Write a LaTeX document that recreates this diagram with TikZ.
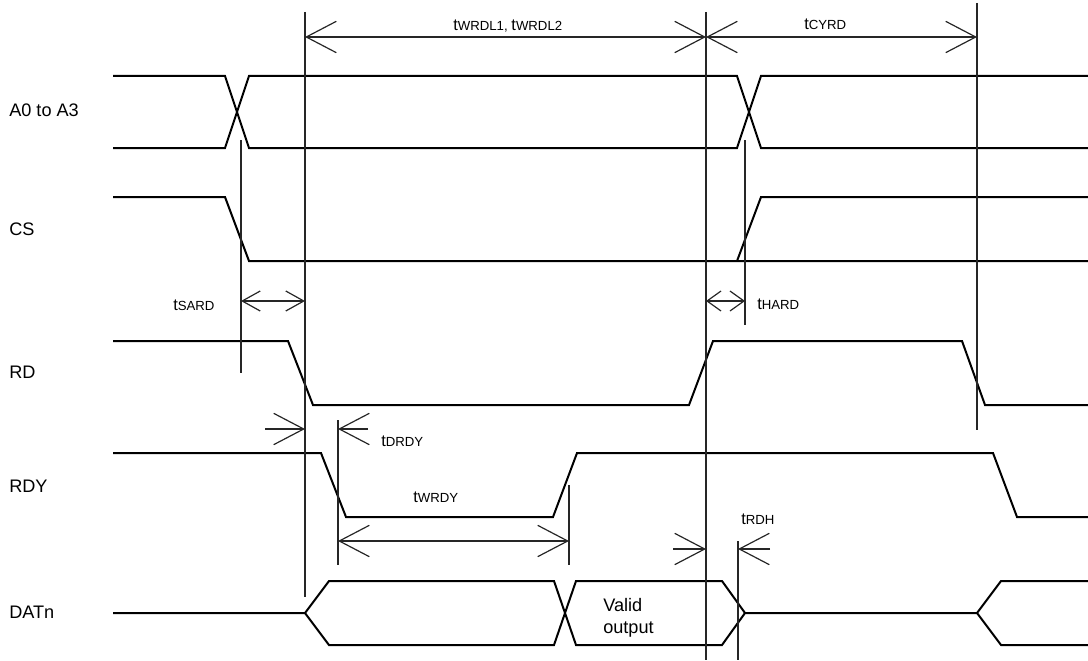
\documentclass[tikz,border=0pt]{standalone}
\usepackage{fontspec}
\setmainfont{Liberation Sans}
\usetikzlibrary{arrows.meta}
\newcommand\tlab[1]{{\fontsize{12.3}{14}\selectfont t}{\fontsize{9.9}{12}\selectfont #1}}
\begin{document}
\begin{tikzpicture}[x=0.75pt,y=-0.75pt,
  sig/.style={line width=1.5pt, line join=miter},
  guide/.style={line width=0.9pt, draw=black!85},
  barb/.tip={Straight Barb[length=22.5pt,width=23.5pt,line width=0.9pt]},
  sbarb/.tip={Straight Barb[length=13.5pt,width=15pt,line width=0.9pt]},
  tbarb/.tip={Straight Barb[length=10.5pt,width=15pt,line width=0.9pt]},
  dim/.style={guide, barb-barb},
  dimr/.style={guide, -barb},
  signame/.style={anchor=base west, inner sep=0pt, font=\fontsize{13.6}{16}\selectfont},
  tl/.style={anchor=base west, inner sep=0pt}]
\useasboundingbox (0,0) rectangle (1088,660);

% signal names
\node[signame] (lA)   at (9,117) {A0 to A3};
\node[signame] (lCS)  at (9,235) {CS};
\node[signame] (lRD)  at (9,378) {RD};
\node[signame] (lRDY) at (9,492) {RDY};
\node[signame] (lDAT) at (9,618) {DATn};

% waveforms
\draw[sig] (113,76) -- (225,76) -- (249,148) -- (737,148) -- (761,76) -- (1088,76);
\draw[sig] (113,148) -- (225,148) -- (249,76) -- (737,76) -- (761,148) -- (1088,148);
\draw[sig] (113,197) -- (225,197) -- (249,261) -- (1088,261);
\draw[sig] (737,261) -- (761,197) -- (1088,197);
\draw[sig] (113,341) -- (288,341) -- (313,405) -- (689,405) -- (713,341) -- (962,341) -- (985,405) -- (1088,405);
\draw[sig] (113,453) -- (321,453) -- (346,517) -- (553,517) -- (577,453) -- (993,453) -- (1017,517) -- (1088,517);
\draw[sig] (113,613) -- (305,613) -- (329,581) -- (554,581) -- (576,645) -- (722,645) -- (745,613) -- (977,613) -- (1001,581) -- (1088,581);
\draw[sig] (305,613) -- (329,645) -- (554,645) -- (576,581) -- (722,581) -- (745,613);
\draw[sig] (977,613) -- (1001,645) -- (1088,645);

% guide lines
\coordinate (g1t) at (241,140); \coordinate (g1b) at (241,373);
\coordinate (g2t) at (305,12);  \coordinate (g2b) at (305,597);
\coordinate (g3t) at (706,12);  \coordinate (g3b) at (706,660);
\coordinate (g4t) at (745,140); \coordinate (g4b) at (745,325);
\coordinate (g5t) at (977,3);   \coordinate (g5b) at (977,430);
\coordinate (g6t) at (338,420); \coordinate (g6b) at (338,565);
\coordinate (g7t) at (569,485); \coordinate (g7b) at (569,565);
\coordinate (g8t) at (738,541); \coordinate (g8b) at (738,660);
\foreach \g in {g1,g2,g3,g4,g5,g6,g7,g8} \draw[guide] (\g t) -- (\g b);

% dimension arrows
\coordinate (wA) at (305,37); \coordinate (wB) at (706,37); \coordinate (cB) at (977,37);
\draw[dim] (wA) -- (wB);
\draw[dim] (wB) -- (cB);
\coordinate (sA) at (241,301); \coordinate (sB) at (305,301);
\coordinate (hA) at (706,301); \coordinate (hB) at (745,301);
\draw[guide, sbarb-sbarb] (sA) -- (sB);
\draw[guide, tbarb-tbarb] (hA) -- (hB);
\coordinate (dL) at (265,429); \coordinate (dLt) at (305,429);
\coordinate (dR) at (368,429); \coordinate (dRt) at (338,429);
\draw[dimr] (dL) -- (dLt);
\draw[dimr] (dR) -- (dRt);
\coordinate (yA) at (338,541); \coordinate (yB) at (569,541);
\draw[dim] (yA) -- (yB);
\coordinate (rL) at (673,549); \coordinate (rLt) at (706,549);
\coordinate (rR) at (770,549); \coordinate (rRt) at (738,549);
\draw[dimr] (rL) -- (rLt);
\draw[dimr] (rR) -- (rRt);

% timing labels
\node[tl] (tw)  at (453,31)  {\tlab{WRDL1}, \tlab{WRDL2}};
\node[tl] (tc)  at (804,30)  {\tlab{CYRD}};
\node[tl] (ts)  at (173,310) {\tlab{SARD}};
\node[tl] (th)  at (757,309) {\tlab{HARD}};
\node[tl] (td)  at (381,446) {\tlab{DRDY}};
\node[tl] (twr) at (413,502) {\tlab{WRDY}};
\node[tl] (tr)  at (741,524) {\tlab{RDH}};
\node[signame] (vo1) at (603,611) {Valid};
\node[signame] (vo2) at (603,633) {output};
\end{tikzpicture}
\end{document}
